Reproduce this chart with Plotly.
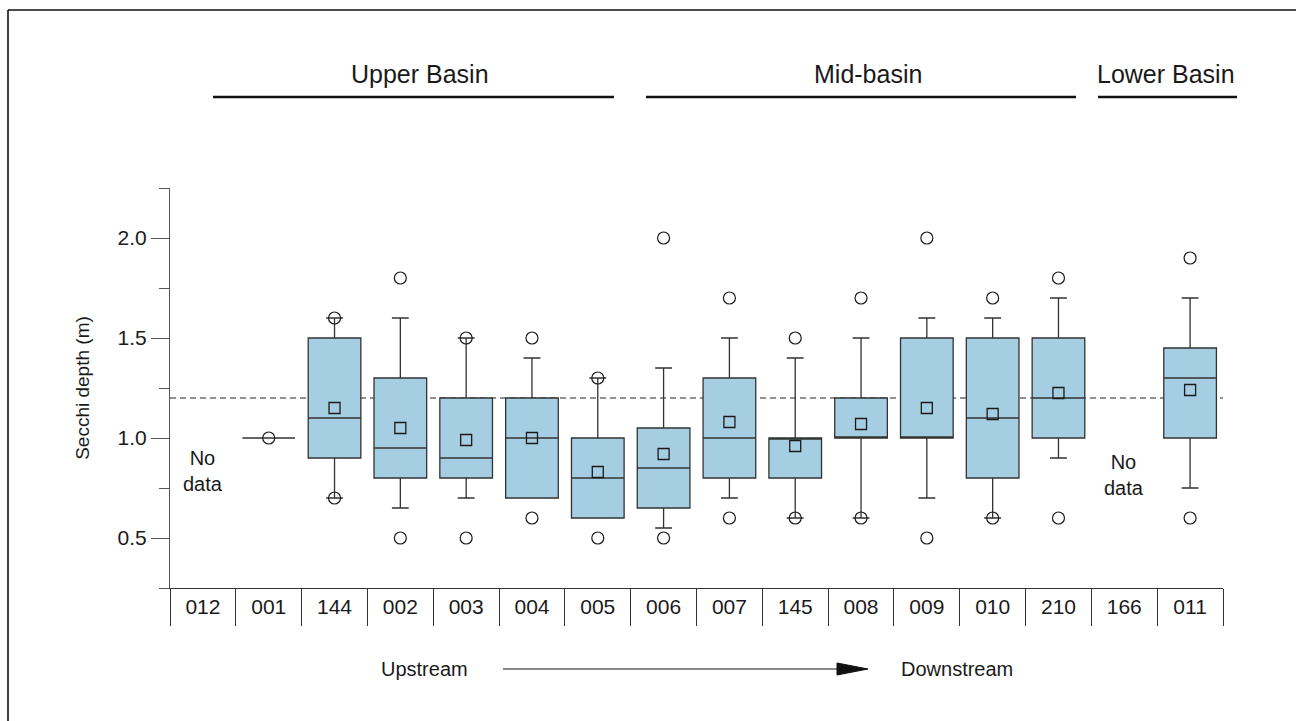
import plotly.graph_objects as go

# ---------------- data ----------------
categories = ["012", "001", "144", "002", "003", "004", "005", "006",
              "007", "145", "008", "009", "010", "210", "166", "011"]

box_sites = ["001", "144", "002", "003", "004", "005", "006", "007",
             "145", "008", "009", "010", "210", "011"]
q1 = [1.0, 0.9, 0.8, 0.8, 0.7, 0.6, 0.65, 0.8, 0.8, 1.0, 1.0, 0.8, 1.0, 1.0]
median = [1.0, 1.1, 0.95, 0.9, 1.0, 0.8, 0.85, 1.0, 1.0, 1.0, 1.0, 1.1, 1.2, 1.3]
q3 = [1.0, 1.5, 1.3, 1.2, 1.2, 1.0, 1.05, 1.3, 1.0, 1.2, 1.5, 1.5, 1.5, 1.45]
lower_whisker = [1.0, 0.7, 0.65, 0.7, 0.7, 0.6, 0.55, 0.7, 0.6, 0.6, 0.7, 0.6, 0.9, 0.75]
upper_whisker = [1.0, 1.6, 1.6, 1.5, 1.4, 1.3, 1.35, 1.5, 1.4, 1.5, 1.6, 1.6, 1.7, 1.7]

mean_sites = ["144", "002", "003", "004", "005", "006", "007", "145",
              "008", "009", "010", "210", "011"]
means = [1.15, 1.05, 0.99, 1.0, 0.83, 0.92, 1.08, 0.96, 1.07, 1.15, 1.12, 1.225, 1.24]

outlier_sites = ["001", "144", "144", "002", "002", "003", "003", "004", "004",
                 "005", "005", "006", "006", "007", "007", "145", "145",
                 "008", "008", "009", "009", "010", "010", "210", "210",
                 "011", "011"]
outliers = [1.0, 1.6, 0.7, 1.8, 0.5, 1.5, 0.5, 1.5, 0.6,
            1.3, 0.5, 2.0, 0.5, 1.7, 0.6, 1.5, 0.6,
            1.7, 0.6, 2.0, 0.5, 1.7, 0.6, 1.8, 0.6,
            1.9, 0.6]

no_data_sites = ["012", "166"]
reference_depth = 1.2

y_major_ticks = [0.5, 1.0, 1.5, 2.0]
y_minor_ticks = [0.25, 0.75, 1.25, 1.75, 2.25]

basin_names = ["Upper Basin", "Mid-basin", "Lower Basin"]

# ---------------- layout geometry (pixels) ----------------
W, H = 1296, 721
L, R, T, B = 170, 1223, 188, 588
PW, PH = R - L, B - T


def xp(px):
    return (px - L) / PW


def yp(py):
    return (B - py) / PH


FONT = "Liberation Sans, Arial, sans-serif"
INK = "#1a1a1a"
EDGE = "#333333"

fig = go.Figure()

# register every category on the axis
fig.add_trace(go.Scatter(x=categories, y=[None] * len(categories), mode="markers",
                         showlegend=False, hoverinfo="skip"))

fig.add_trace(go.Box(
    x=box_sites, q1=q1, median=median, q3=q3,
    lowerfence=lower_whisker, upperfence=upper_whisker,
    width=0.8, whiskerwidth=0.32,
    fillcolor="#a6cee3", line=dict(color=EDGE, width=1.3),
    boxpoints=False, showlegend=False, hoverinfo="skip"))

fig.add_trace(go.Scatter(
    x=outlier_sites, y=outliers, mode="markers",
    marker=dict(symbol="circle-open", size=12, color=INK, line=dict(width=1.2)),
    showlegend=False, hoverinfo="skip"))

fig.add_trace(go.Scatter(
    x=mean_sites, y=means, mode="markers",
    marker=dict(symbol="square-open", size=11, color=INK, line=dict(width=1.3)),
    showlegend=False, hoverinfo="skip"))

shapes = []
# dashed reference line
shapes.append(dict(type="line", xref="x domain", yref="y", x0=0, x1=1,
                   y0=reference_depth, y1=reference_depth, layer="below",
                   line=dict(color="#222222", width=1, dash="6px,4px")))
# outer frame (only left and top edges fall inside the picture)
shapes.append(dict(type="line", xref="paper", yref="paper",
                   x0=xp(8), x1=xp(1400), y0=yp(10), y1=yp(10),
                   line=dict(color="#111111", width=1.6)))
shapes.append(dict(type="line", xref="paper", yref="paper",
                   x0=xp(8), x1=xp(8), y0=yp(10), y1=yp(800),
                   line=dict(color="#111111", width=1.6)))
# basin lines
basin_spans = [(213, 614), (646, 1076), (1098, 1237)]
basin_centers = [420, 868, 1166]
for (a, b) in basin_spans:
    shapes.append(dict(type="line", xref="paper", yref="paper",
                       x0=xp(a), x1=xp(b), y0=yp(97), y1=yp(97),
                       line=dict(color="#111111", width=2.6)))
# arrow
shapes.append(dict(type="line", xref="paper", yref="paper",
                   x0=xp(503), x1=xp(840), y0=yp(669), y1=yp(669),
                   line=dict(color="#111111", width=1.2)))
shapes.append(dict(type="path", xref="paper", yref="paper",
                   path="M {a},{b} L {c},{d} L {e},{f} Z".format(
                       a=xp(837), b=yp(663), c=xp(868), d=yp(669), e=xp(837), f=yp(675)),
                   fillcolor="#111111", line=dict(color="#111111", width=1)))

annotations = []
for name, cx in zip(basin_names, basin_centers):
    annotations.append(dict(text=name, xref="paper", yref="paper", x=xp(cx), y=yp(74),
                            showarrow=False, xanchor="center", yanchor="middle",
                            font=dict(family=FONT, size=25, color=INK)))
for site, yv in zip(no_data_sites, [0.835, 0.815]):
    annotations.append(dict(text="No<br>data", xref="x", yref="y",
                            x=categories.index(site), y=yv,
                            showarrow=False, xanchor="center", yanchor="middle",
                            font=dict(family=FONT, size=20, color=INK)))
annotations.append(dict(text="Upstream", xref="paper", yref="paper", x=xp(424), y=yp(669),
                        showarrow=False, xanchor="center", yanchor="middle",
                        font=dict(family=FONT, size=20, color=INK)))
annotations.append(dict(text="Downstream", xref="paper", yref="paper", x=xp(957), y=yp(669),
                        showarrow=False, xanchor="center", yanchor="middle",
                        font=dict(family=FONT, size=20, color=INK)))

fig.update_layout(
    width=W, height=H, autosize=False,
    margin=dict(l=L, r=W - R, t=T, b=H - B, pad=0),
    plot_bgcolor="white", paper_bgcolor="white",
    font=dict(family=FONT, color=INK),
    shapes=shapes, annotations=annotations,
    xaxis=dict(
        type="category", categoryorder="array", categoryarray=categories,
        range=[-0.5, len(categories) - 0.5],
        showline=True, linecolor=EDGE, linewidth=1.2,
        ticks="outside", tickson="boundaries", ticklen=37, tickcolor=EDGE, tickwidth=1.2,
        ticklabelstandoff=0,
        tickfont=dict(family=FONT, size=21, color=INK),
        showgrid=False, zeroline=False, fixedrange=True),
    yaxis=dict(
        range=[0.25, 2.25], tickmode="array", tickvals=y_major_ticks, tickformat=".1f",
        showline=True, linecolor="#555555", linewidth=1.2,
        ticks="outside", ticklen=18, tickcolor="#555555", tickwidth=1.2,
        minor=dict(tickmode="array", tickvals=y_minor_ticks, ticks="outside",
                   ticklen=10, tickcolor="#555555", tickwidth=1.2, showgrid=False),
        tickfont=dict(family=FONT, size=21, color=INK),
        title=dict(text="Secchi depth (m)", font=dict(family=FONT, size=19, color=INK),
                   standoff=22),
        showgrid=False, zeroline=False, fixedrange=True),
)

fig.write_html(
    "out.html",
    post_script=("document.body.style.margin='0px';"
                 "document.body.style.overflow='hidden';"
                 "document.documentElement.style.overflow='hidden';"),
    config={"displayModeBar": False})
